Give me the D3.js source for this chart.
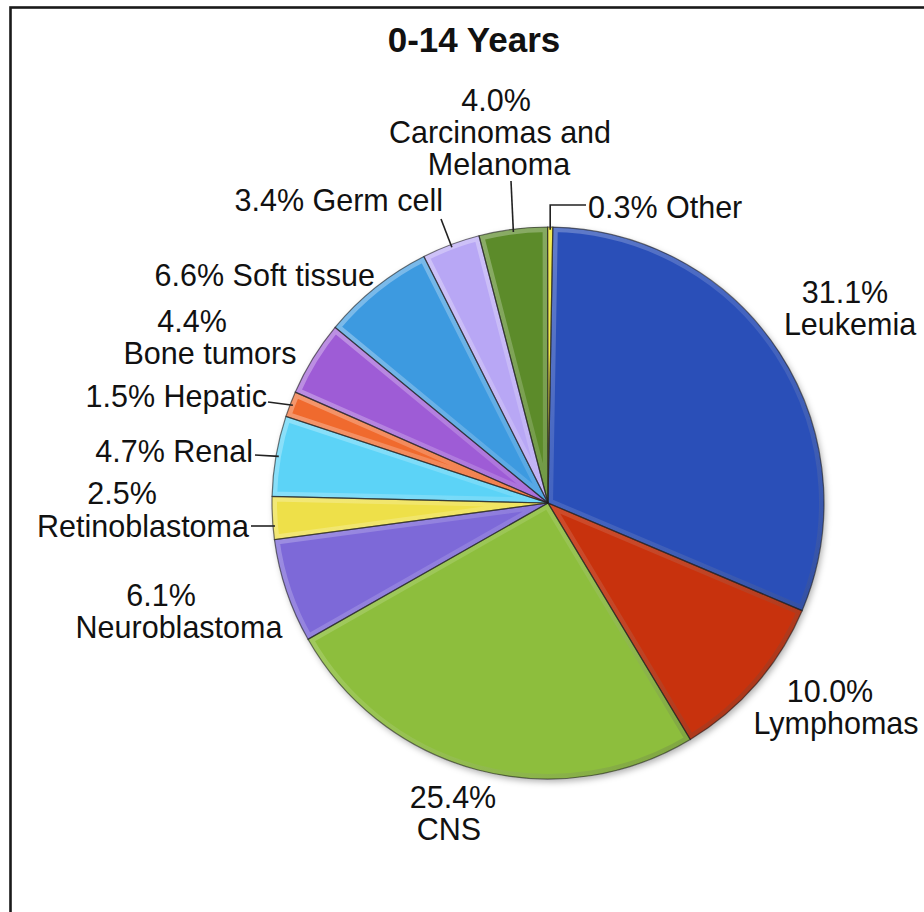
<!DOCTYPE html>
<meta charset="utf-8">
<head>
<style>
body { margin: 0; background: #fff; }
text { font-family: "Liberation Sans", Arial, sans-serif; fill: #111; }
.title { font-weight: bold; font-size: 35px; }
.lbl { font-size: 30.5px; }
.leader { fill: none; stroke: #222; stroke-width: 1.6; }
</style>
</head>
<body>
<svg width="924" height="912"></svg>
<script src="https://cdn.jsdelivr.net/npm/d3@7"></script>
<script>

// data, clockwise from the top
var categories = ["Leukemia", "Lymphomas", "CNS", "Neuroblastoma", "Retinoblastoma", "Renal",
                  "Hepatic", "Bone tumors", "Soft tissue", "Germ cell", "Carcinomas and|Melanoma", "Other"];
var values = [31.1, 10.0, 25.4, 6.1, 2.5, 4.7, 1.5, 4.4, 6.6, 3.4, 4.0, 0.3];
var colors = ["#2b4fb8", "#c8300e", "#8dbe3e", "#7d69d8", "#eee04a", "#5bd3f7",
              "#f06a2e", "#9e5bd6", "#3d9ae0", "#b8a7f5", "#5b8b2b", "#ece21e"];

// label layout (Excel placed these by hand)
// mode: "stack" = percent on its own line, "inline" = percent and name on one line
var labelLayout = [
  {mode: "stack", anchor: "middle", pos: [[845, 303], [850, 335]]},
  {mode: "stack", anchor: "middle", pos: [[830, 702], [836, 734]]},
  {mode: "stack", anchor: "middle", pos: [[453, 808], [449, 840]]},
  {mode: "stack", anchor: "middle", pos: [[161, 606], [179, 638]]},
  {mode: "stack", anchor: "middle", pos: [[122, 504], [143, 537]], leader: [251, 526], flat: true},
  {mode: "inline", anchor: "end", pos: [[253, 462]], leader: [255, 455]},
  {mode: "inline", anchor: "end", pos: [[267, 407]], leader: [268, 402]},
  {mode: "stack", anchor: "middle", pos: [[192, 332], [210, 364]]},
  {mode: "inline", anchor: "end", pos: [[375, 286]]},
  {mode: "inline", anchor: "end", pos: [[443, 211]], leader: [441, 219]},
  {mode: "stack", anchor: "middle", pos: [[496, 111], [500, 143], [499, 175]], leader: [511, 181]},
  {mode: "inline", anchor: "start", pos: [[588, 218]], leader: [586, 205], elbow: true}
];

var svg = d3.select("svg"),
    cx = 548, cy = 503, r = 276;

var fmt = d3.format(".1f");

// frame
svg.append("rect")
    .attr("x", 10.5).attr("y", 7.5)
    .attr("width", 960).attr("height", 960)
    .attr("fill", "none")
    .attr("stroke", "#1a1a1a")
    .attr("stroke-width", 2.6);

svg.append("text")
    .attr("class", "title")
    .attr("x", 474).attr("y", 52)
    .attr("text-anchor", "middle")
    .text("0-14 Years");

var defs = svg.append("defs");

var grad = defs.append("linearGradient")
    .attr("id", "bevel")
    .attr("gradientUnits", "userSpaceOnUse")
    .attr("x1", -r).attr("y1", -r)
    .attr("x2", r).attr("y2", r);
grad.append("stop").attr("offset", 0).attr("stop-color", "#fff").attr("stop-opacity", 0.4);
grad.append("stop").attr("offset", 0.5).attr("stop-color", "#fff").attr("stop-opacity", 0.12);
grad.append("stop").attr("offset", 1).attr("stop-color", "#000").attr("stop-opacity", 0.25);

var shadow = defs.append("filter").attr("id", "shadow")
    .attr("x", "-10%").attr("y", "-10%").attr("width", "120%").attr("height", "120%");
shadow.append("feDropShadow")
    .attr("dx", 2).attr("dy", 3).attr("stdDeviation", 3)
    .attr("flood-color", "#000").attr("flood-opacity", 0.3);

var startA = Math.PI / 180; // first slice at 1 degree

var pie = d3.pie()
    .sort(null)
    .value(function(d) { return d; })
    .startAngle(startA)
    .endAngle(startA + 2 * Math.PI);

var arc = d3.arc().innerRadius(0).outerRadius(r);

var arcs = pie(values);

arcs.forEach(function(d, i) {
  defs.append("clipPath").attr("id", "clip" + i)
    .append("path").attr("d", arc(d));
});

var g = svg.append("g")
    .attr("transform", "translate(" + cx + "," + cy + ")");

g.append("g").attr("filter", "url(#shadow)")
  .selectAll("path")
  .data(arcs)
  .enter().append("path")
    .attr("d", arc)
    .attr("fill", function(d, i) { return colors[i]; });

// bevel band, kept inside each slice
g.append("g")
  .selectAll("path")
  .data(arcs)
  .enter().append("path")
    .attr("d", arc)
    .attr("fill", "none")
    .attr("stroke", "url(#bevel)")
    .attr("stroke-width", 10)
    .attr("clip-path", function(d, i) { return "url(#clip" + i + ")"; });

g.append("g")
  .selectAll("path")
  .data(arcs)
  .enter().append("path")
    .attr("d", arc)
    .attr("fill", "none")
    .attr("stroke", "rgba(30,30,30,0.6)")
    .attr("stroke-width", 1.2);

// labels
var labels = svg.append("g");

arcs.forEach(function(d, i) {
  var lay = labelLayout[i];
  var pct = fmt(values[i]) + "%";
  var nameLines = categories[i].split("|");
  var lines = lay.mode == "inline" ? [pct + " " + nameLines.join(" ")] : [pct].concat(nameLines);

  lines.forEach(function(t, k) {
    labels.append("text")
      .attr("class", "lbl")
      .attr("x", lay.pos[k][0])
      .attr("y", lay.pos[k][1])
      .attr("text-anchor", lay.anchor)
      .text(t);
  });

  if (lay.leader) {
    var mid = (d.startAngle + d.endAngle) / 2;
    var ex = cx + 0.99 * r * Math.sin(mid),
        ey = cy - 0.99 * r * Math.cos(mid);
    var s = lay.leader;
    var pts;
    if (lay.flat) {
      ex = cx - Math.sqrt(r * r - (s[1] - cy) * (s[1] - cy)) + 2;
      pts = [s, [ex, s[1]]];
    } else if (lay.elbow) {
      pts = [s, [ex, s[1]], [ex, ey]];
    } else {
      pts = [s, [ex, ey]];
    }
    labels.append("path")
      .attr("class", "leader")
      .attr("d", d3.line()(pts));
  }
});

</script>
</body>
